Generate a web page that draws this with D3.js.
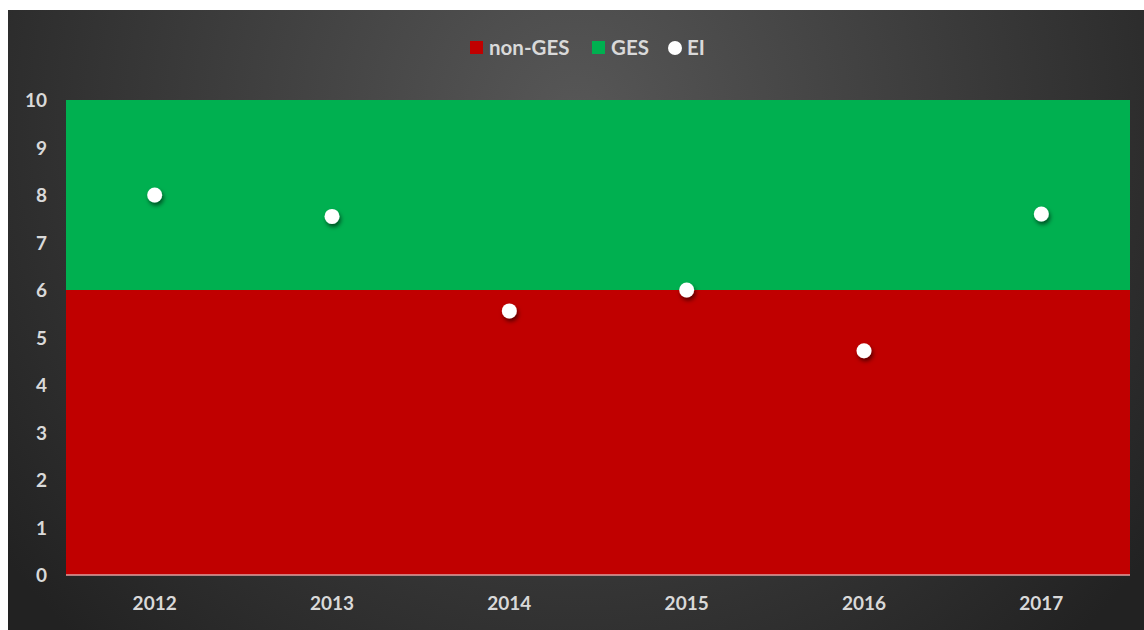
<!DOCTYPE html>
<html>
<head>
<meta charset="utf-8">
<script src="https://cdn.jsdelivr.net/npm/d3@7"></script>
<style>
  body { margin: 0; background: #fff; }
  svg text { font-family: Lato, "Open Sans", sans-serif; font-weight: bold; fill: #d9d9d9; }
</style>
</head>
<body>
<div id="chart"></div>
<script>
// chart values
const years = ['2012', '2013', '2014', '2015', '2016', '2017'];
const nonGES = [6, 6, 6, 6, 6, 6];
const ges = [4, 4, 4, 4, 4, 4];
const ei = [8.0, 7.55, 5.56, 6.0, 4.72, 7.6];
const yTicks = [0, 1, 2, 3, 4, 5, 6, 7, 8, 9, 10];

let W = 1144, H = 630;
let margin = { top: 100, left: 66, right: 14, bottom: 55 };

let svg = d3.select('#chart').append('svg')
    .attr('width', W)
    .attr('height', H);

let defs = svg.append('defs');
let grad = defs.append('radialGradient')
    .attr('id', 'bg')
    .attr('gradientUnits', 'userSpaceOnUse')
    .attr('cx', 576).attr('cy', 120).attr('r', 720);
grad.append('stop').attr('offset', '0%').attr('stop-color', '#575757');
grad.append('stop').attr('offset', '100%').attr('stop-color', '#222222');

defs.append('filter')
    .attr('id', 'shadow')
    .attr('x', '-50%').attr('y', '-50%').attr('width', '200%').attr('height', '200%')
    .append('feDropShadow')
    .attr('dx', 1.5).attr('dy', 3).attr('stdDeviation', 2)
    .attr('flood-color', '#000').attr('flood-opacity', 0.55);

// panel
svg.append('rect')
    .attr('x', 8).attr('y', 10)
    .attr('width', W - 8).attr('height', H - 10)
    .attr('fill', 'url(#bg)');

let x = d3.scaleBand()
    .domain(years)
    .range([margin.left, W - margin.right])
    .padding(0);

let y = d3.scaleLinear()
    .domain([0, 10])
    .range([H - margin.bottom, margin.top]);

// stacked areas spanning full bands
let stacked = years.map((yr, i) => ({ year: yr, lo: 0, mid: nonGES[i], hi: nonGES[i] + ges[i] }));
let edges = [];
stacked.forEach(d => {
    edges.push({ x: x(d.year), d });
    edges.push({ x: x(d.year) + x.bandwidth(), d });
});

svg.append('path')
    .datum(edges)
    .attr('fill', '#c00000')
    .attr('d', d3.area().x(e => e.x).y0(e => y(e.d.lo)).y1(e => y(e.d.mid)));

svg.append('path')
    .datum(edges)
    .attr('fill', '#00b050')
    .attr('d', d3.area().x(e => e.x).y0(e => y(e.d.mid)).y1(e => y(e.d.hi)));

// x axis line
svg.append('line')
    .attr('x1', margin.left).attr('x2', W - margin.right)
    .attr('y1', y(0)).attr('y2', y(0))
    .attr('stroke', '#e0a0a0').attr('stroke-width', 1.5);

// y axis labels
let yAxis = svg.append('g')
    .attr('transform', `translate(${margin.left - 19},0)`)
    .call(d3.axisLeft(y).tickValues(yTicks).tickSize(0).tickPadding(0));
yAxis.select('.domain').remove();
yAxis.selectAll('text')
    .style('font-size', '19px')
    .attr('fill', '#d9d9d9')
    .attr('dy', '0.35em');

// x axis labels
let xAxis = svg.append('g')
    .attr('transform', `translate(0,${y(0) + 21})`)
    .call(d3.axisBottom(x).tickSize(0).tickPadding(0));
xAxis.select('.domain').remove();
xAxis.selectAll('text')
    .style('font-size', '19px')
    .attr('fill', '#d9d9d9')
    .attr('dy', '0.71em');

// EI markers
svg.append('g').selectAll('circle')
    .data(years.map((yr, i) => ({ year: yr, v: ei[i] })))
    .enter()
    .append('circle')
    .attr('cx', d => x(d.year) + x.bandwidth() / 2)
    .attr('cy', d => y(d.v))
    .attr('r', 7.5)
    .attr('fill', '#fff')
    .attr('filter', 'url(#shadow)');

// legend
let legend = svg.append('g').attr('transform', 'translate(0,48)');
legend.append('rect').attr('x', 470).attr('y', -7).attr('width', 13).attr('height', 13).attr('fill', '#c00000');
legend.append('text').attr('x', 489).attr('y', 0).attr('dy', '0.35em').style('font-size', '20.5px').text('non-GES');
legend.append('rect').attr('x', 592).attr('y', -7).attr('width', 13).attr('height', 13).attr('fill', '#00b050');
legend.append('text').attr('x', 611).attr('y', 0).attr('dy', '0.35em').style('font-size', '20.5px').text('GES');
legend.append('circle').attr('cx', 675).attr('cy', 0).attr('r', 7).attr('fill', '#fff');
legend.append('text').attr('x', 687).attr('y', 0).attr('dy', '0.35em').style('font-size', '20.5px').text('EI');
</script>
</body>
</html>
